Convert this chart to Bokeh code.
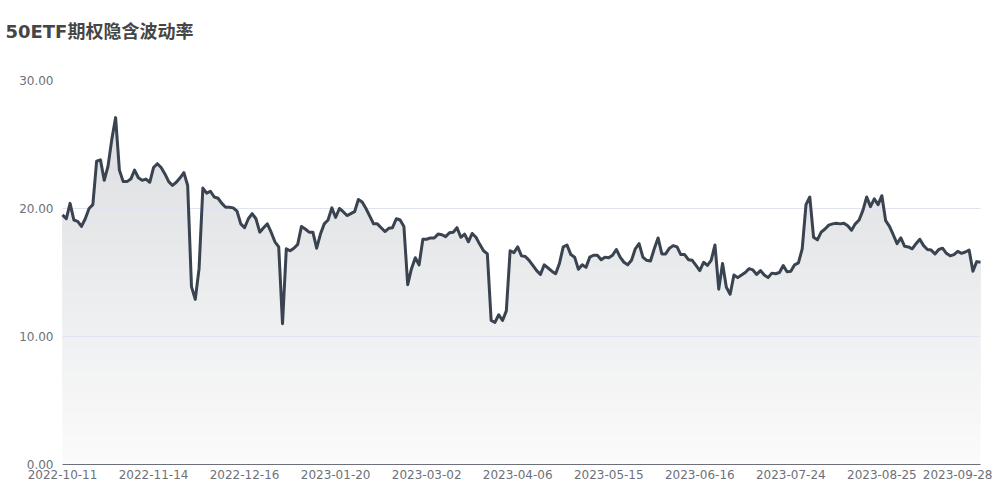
import numpy as np
from bokeh.plotting import figure
from bokeh.models import Range1d, FixedTicker, NumeralTickFormatter, Title
from bokeh.embed import file_html
from bokeh.resources import INLINE

title_text = "50ETF期权隐含波动率"

tick_labels = ["2022-10-11", "2022-11-14", "2022-12-16", "2023-01-20", "2023-03-02",
               "2023-04-06", "2023-05-15", "2023-06-16", "2023-07-24", "2023-08-25",
               "2023-09-28"]
tick_step = 24

y_ticks = [0, 10, 20, 30]

values = [
    19.5, 19.2, 20.4, 19.1, 19.0, 18.6, 19.2, 20.0, 20.3, 23.7,
    23.8, 22.2, 23.3, 25.4, 27.1, 23.0, 22.1, 22.1, 22.3, 23.0,
    22.4, 22.2, 22.3, 22.05, 23.2, 23.5, 23.2, 22.7, 22.1, 21.8,
    22.05, 22.4, 22.8, 21.8, 13.9, 12.9, 15.3, 21.6, 21.2, 21.35,
    20.9, 20.8, 20.4, 20.1, 20.1, 20.05, 19.8, 18.8, 18.5, 19.2,
    19.6, 19.2, 18.15, 18.5, 18.8, 18.15, 17.4, 17.0, 11.0, 16.85,
    16.7, 16.9, 17.2, 18.6, 18.4, 18.15, 18.15, 16.9, 18.0, 18.8,
    19.1, 20.05, 19.3, 20.0, 19.75, 19.45, 19.6, 19.75, 20.7, 20.5,
    20.0, 19.4, 18.8, 18.8, 18.5, 18.2, 18.45, 18.5, 19.2, 19.1,
    18.6, 14.05, 15.3, 16.15, 15.6, 17.6, 17.6, 17.7, 17.7, 18.0,
    17.95, 17.8, 18.1, 18.15, 18.5, 17.75, 18.0, 17.4, 18.05, 17.75,
    17.2, 16.7, 16.45, 11.25, 11.1, 11.7, 11.25, 12.0, 16.7, 16.55,
    17.0, 16.3, 16.25, 15.95, 15.55, 15.15, 14.85, 15.6, 15.35, 15.1,
    14.9, 15.7, 17.0, 17.15, 16.4, 16.2, 15.25, 15.6, 15.4, 16.2,
    16.35, 16.35, 16.0, 16.2, 16.15, 16.35, 16.8, 16.2, 15.8, 15.6,
    15.95, 16.85, 17.25, 16.2, 15.95, 15.9, 16.85, 17.7, 16.45, 16.45,
    16.9, 17.1, 17.0, 16.4, 16.4, 16.0, 15.95, 15.55, 15.15, 15.8,
    15.55, 15.95, 17.15, 13.7, 15.7, 13.85, 13.3, 14.8, 14.6, 14.8,
    15.0, 15.3, 15.2, 14.85, 15.15, 14.8, 14.6, 14.95, 14.9, 15.0,
    15.55, 15.05, 15.1, 15.6, 15.75, 16.85, 20.3, 20.9, 17.75, 17.55,
    18.15, 18.4, 18.7, 18.8, 18.85, 18.8, 18.85, 18.65, 18.3, 18.8,
    19.1, 19.85, 20.9, 20.15, 20.75, 20.3, 21.0, 19.05, 18.6, 17.95,
    17.25, 17.7, 17.05, 17.0, 16.85, 17.25, 17.6, 17.1, 16.8, 16.75,
    16.45, 16.8, 16.9, 16.5, 16.3, 16.4, 16.65, 16.5, 16.6, 16.75,
    15.1, 15.85, 15.8,
]

x = np.arange(len(values))
v = np.array(values, dtype=float)

p = figure(width=992, height=490, output_backend="svg", toolbar_location=None,
           x_range=Range1d(0, len(values) - 1), y_range=Range1d(0, 30),
           min_border_left=62, min_border_right=12, min_border_top=80,
           min_border_bottom=26)
p.outline_line_color = None
p.background_fill_color = "white"
p.border_fill_color = "white"

# spacer (closest to the frame) then the real title above it
spacer = Title(text=" ", text_font_size="12px", standoff=18)
p.add_layout(spacer, "above")
main_title = Title(text=title_text, text_font="DejaVu Sans, Noto Sans CJK SC",
                   text_font_size="18px", text_font_style="bold",
                   text_color="#464646", align="left", offset=-57, standoff=10)
p.add_layout(main_title, "above")

# vertical gradient fill approximated with stacked opaque layers
top_rgb = np.array([220, 222, 225], dtype=float)
bot_rgb = np.array([251, 251, 251], dtype=float)
N = 60
top = v.max()
for k in range(N):
    lo = top * k / N
    t = (k + 0.5) / N
    c = tuple(int(round(q)) for q in bot_rgb + (top_rgb - bot_rgb) * t)
    p.varea(x=x, y1=np.minimum(v, lo), y2=v, fill_color=c, fill_alpha=1.0)

line_r = p.line(x, v, line_color="#3a4350", line_width=3, line_join="round")
line_r.level = "overlay"

# axes / grid
p.xgrid.visible = False
p.ygrid.ticker = FixedTicker(ticks=y_ticks)
p.ygrid.grid_line_color = "#dfe4f0"
p.ygrid.grid_line_width = 1
p.ygrid.level = "annotation"

p.yaxis.ticker = FixedTicker(ticks=y_ticks)
p.yaxis.formatter = NumeralTickFormatter(format="0.00")
p.yaxis.axis_line_color = None
p.yaxis.major_tick_line_color = None
p.yaxis.minor_tick_line_color = None
p.yaxis.major_tick_out = 0
p.yaxis.major_label_standoff = 9

xt = [i * tick_step for i in range(len(tick_labels))]
p.xaxis.ticker = FixedTicker(ticks=xt)
p.xaxis.major_label_overrides = {t: lab for t, lab in zip(xt, tick_labels)}
p.xaxis.axis_line_color = "#6e7079"
p.xaxis.major_tick_line_color = None
p.xaxis.minor_tick_line_color = None
p.xaxis.major_tick_out = 0
p.xaxis.major_label_standoff = 5

for ax in (p.xaxis, p.yaxis):
    ax.major_label_text_font = "DejaVu Sans"
    ax.major_label_text_font_size = "12px"
    ax.major_label_text_color = "#6e7079"

open("out.html", "w").write(file_html(p, INLINE))
